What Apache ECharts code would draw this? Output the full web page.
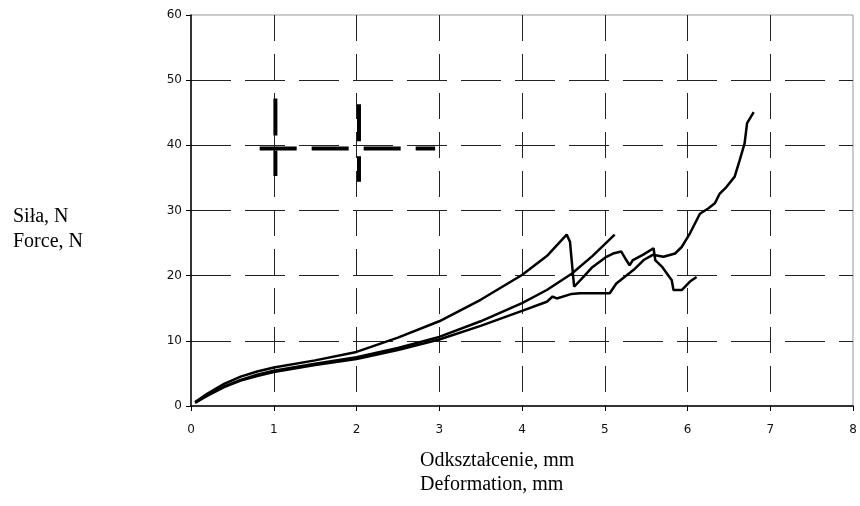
<!DOCTYPE html>
<html>
<head>
<meta charset="utf-8">
<script src="https://cdn.jsdelivr.net/npm/echarts@6/dist/echarts.min.js"></script>
<style>
  html, body { margin: 0; padding: 0; background: #fff; }
  #chart { width: 860px; height: 506px; }
</style>
</head>
<body>
<div id="chart"></div>
<script>
// axis ticks
const xTicks = [0, 1, 2, 3, 4, 5, 6, 7, 8]
const yTicks = [0, 10, 20, 30, 40, 50, 60]

// force-deformation curves [mm, N]
const curveA = [
  [0.05, 0.6], [0.2, 1.9], [0.4, 3.4], [0.6, 4.5], [0.8, 5.3], [1.0, 5.9], [1.5, 7.0],
  [2.0, 8.3], [2.5, 10.5], [3.0, 13.0], [3.5, 16.3], [4.0, 20.1], [4.3, 23.0], [4.54, 26.3],
  [4.58, 25.2], [4.6, 22.4], [4.63, 18.3], [4.72, 19.5], [4.85, 21.3], [5.02, 22.9],
  [5.1, 23.4], [5.2, 23.7], [5.26, 22.4], [5.3, 21.6], [5.34, 22.4], [5.46, 23.2],
  [5.59, 24.2], [5.61, 22.4], [5.69, 21.4], [5.81, 19.3], [5.83, 17.8], [5.93, 17.8],
  [6.03, 19.1], [6.11, 19.8]
]
const curveB = [
  [0.05, 0.5], [0.2, 1.7], [0.4, 3.0], [0.6, 4.0], [0.8, 4.8], [1.0, 5.4], [1.5, 6.5],
  [2.0, 7.5], [2.5, 8.9], [3.0, 10.6], [3.5, 13.0], [4.0, 15.8], [4.3, 17.8], [4.6, 20.3],
  [4.85, 23.0], [5.12, 26.3]
]
const curveC = [
  [0.05, 0.5], [0.2, 1.6], [0.4, 2.9], [0.6, 3.9], [0.8, 4.6], [1.0, 5.2], [1.5, 6.3],
  [2.0, 7.2], [2.5, 8.6], [3.0, 10.2], [3.5, 12.3], [4.0, 14.6], [4.3, 16.0], [4.37, 16.8],
  [4.42, 16.5], [4.6, 17.2], [4.7, 17.3], [5.06, 17.3], [5.14, 18.8], [5.35, 20.9],
  [5.47, 22.4], [5.58, 23.2], [5.71, 22.9], [5.85, 23.4], [5.93, 24.4], [6.03, 26.5],
  [6.11, 28.5], [6.15, 29.5], [6.25, 30.3], [6.33, 31.1], [6.39, 32.6], [6.47, 33.6],
  [6.57, 35.2], [6.63, 37.7], [6.69, 40.3], [6.72, 43.4], [6.8, 45.1]
]

// thick dashed cross marks in the upper left
const crossH = [[0.83, 39.5], [2.95, 39.5]]
const crossV1 = [[1.02, 47.2], [1.02, 35.3]]
const crossV2 = [[2.03, 46.3], [2.03, 34.4]]

const chart = echarts.init(document.getElementById('chart'))

const curveStyle = { color: '#000', width: 2.5 }
const crossStyle = { color: '#000', width: 4, type: [37, 15] }

function lineSeries(data, style) {
  return {
    type: 'line',
    data: data,
    showSymbol: false,
    symbol: 'none',
    smooth: false,
    silent: true,
    animation: false,
    lineStyle: style
  }
}

const option = {
  backgroundColor: '#fff',
  animation: false,
  grid: {
    left: 191,
    right: 7,
    top: 15,
    bottom: 100,
    show: true,
    borderColor: '#999',
    borderWidth: 1
  },
  xAxis: {
    type: 'value',
    min: xTicks[0],
    max: xTicks[xTicks.length - 1],
    interval: 1,
    axisLine: { show: true, onZero: false, lineStyle: { color: '#000', width: 1.5 } },
    axisTick: { show: true, length: 5, lineStyle: { color: '#000' } },
    axisLabel: {
      margin: 18,
      color: '#111',
      fontFamily: 'DejaVu Sans',
      fontSize: 12
    },
    splitLine: {
      show: true,
      showMinLine: false,
      showMaxLine: false,
      lineStyle: { color: '#222', width: 1, type: [26, 13] }
    }
  },
  yAxis: {
    type: 'value',
    min: yTicks[0],
    max: yTicks[yTicks.length - 1],
    interval: 10,
    axisLine: { show: true, onZero: false, lineStyle: { color: '#000', width: 1.5 } },
    axisTick: { show: true, length: 5, lineStyle: { color: '#000' } },
    axisLabel: {
      margin: 9,
      color: '#111',
      fontFamily: 'DejaVu Sans',
      fontSize: 12
    },
    splitLine: {
      show: true,
      showMinLine: false,
      showMaxLine: false,
      lineStyle: { color: '#222', width: 1, type: [40, 14] }
    }
  },
  graphic: [
    {
      type: 'text',
      left: 13,
      top: 204,
      style: {
        text: 'Siła, N\nForce, N',
        font: '20px "Liberation Serif"',
        fill: '#000',
        lineHeight: 25
      }
    },
    {
      type: 'text',
      left: 420,
      top: 449,
      style: {
        text: 'Odkształcenie, mm\nDeformation, mm',
        font: '20px "Liberation Serif"',
        fill: '#000',
        lineHeight: 24
      }
    }
  ],
  series: [
    lineSeries(crossH, crossStyle),
    lineSeries(crossV1, crossStyle),
    lineSeries(crossV2, crossStyle),
    lineSeries(curveA, curveStyle),
    lineSeries(curveB, curveStyle),
    lineSeries(curveC, curveStyle)
  ]
}

option && chart.setOption(option)
</script>
</body>
</html>
